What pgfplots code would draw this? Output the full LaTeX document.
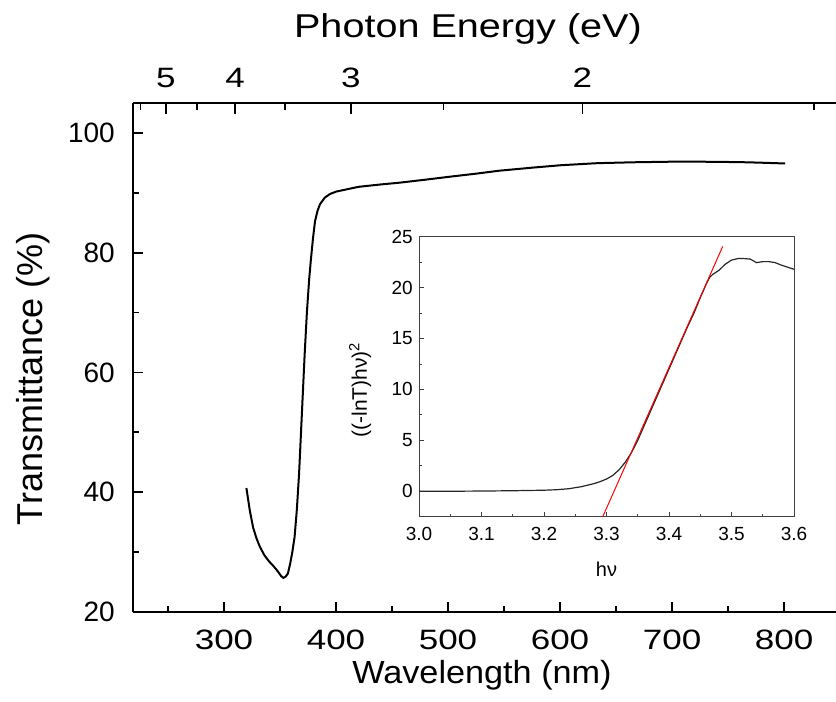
\documentclass[border=0pt]{standalone}
\usepackage{pgfplots}
\pgfplotsset{compat=1.18}
\usepackage{fontspec}
\setmainfont{Liberation Sans}
\newfontfamily\tickstretch{Liberation Sans}[FakeStretch=1.25]
\newfontfamily\titlestretch{Liberation Sans}[FakeStretch=1.2]
\newfontfamily\labstretch{Liberation Sans}[FakeStretch=1.07]

\pgfplotstableread{
lam T
320 40.7
323 37.0
326 34.1
329 32.3
332 30.9
336 29.5
340 28.5
344 27.7
348 26.8
351 26.0
353 25.7
355 25.9
357 26.4
359 28.0
361 30.0
363 32.5
365 37.0
367 43.0
368 47.0
370 55.0
372 63.0
374 70.0
376 75.5
377.5 78.7
379.5 82.5
381.3 85.3
383.5 87.0
385.7 88.1
390 89.2
394.6 89.8
400 90.2
410 90.6
420 91.0
430 91.2
440 91.4
457 91.7
480 92.2
502 92.7
525 93.2
546 93.7
575 94.2
600 94.6
633 94.95
665 95.1
700 95.2
725 95.2
750 95.15
767 95.1
785 95.0
801 94.9
}\transm

\pgfplotstableread{
hv A
3.00 0.0
3.05 0.0
3.10 0.02
3.15 0.05
3.20 0.1
3.22 0.15
3.24 0.25
3.26 0.45
3.28 0.75
3.29 0.95
3.30 1.2
3.31 1.55
3.32 2.1
3.33 2.85
3.34 3.8
3.35 5.0
3.36 6.4
3.37 7.8
3.38 9.2
3.39 10.6
3.40 12.0
3.41 13.4
3.42 14.8
3.43 16.2
3.44 17.5
3.45 19.0
3.46 20.4
3.465 21.0
3.47 21.3
3.48 21.7
3.49 22.3
3.50 22.7
3.51 22.85
3.52 22.85
3.53 22.8
3.54 22.45
3.55 22.55
3.56 22.55
3.57 22.45
3.58 22.2
3.59 22.0
3.60 21.8
}\tauc

\begin{document}
\begin{tikzpicture}
\path[use as bounding box] (-133pt,-90pt) rectangle (703pt,612pt);
% main axis
\begin{axis}[
  at={(0pt,0pt)}, anchor=south west,
  scale only axis, width=703pt, height=509pt,
  xmin=218.75, xmax=846.4, ymin=20, ymax=105,
  axis x line*=bottom, axis y line*=left,
  axis line style={line width=2pt, black},
  tick align=inside,
  xtick={300,400,500,600,700,800}, minor xtick={250,350,450,550,650,750,850},
  ytick={20,40,60,80,100}, minor ytick={30,50,70,90},
  major tick length=10pt, minor tick length=6pt,
  every tick/.style={line width=1.8pt, black},
  /pgf/number format/assume math mode=true,
  xticklabel style={font=\tickstretch\fontsize{28}{30}\selectfont, inner sep=0pt, yshift=-18pt},
  yticklabel style={font=\fontsize{28}{30}\selectfont, inner sep=0pt, xshift=-18pt},
  xlabel={Wavelength (nm)}, ylabel={Transmittance (\%)},
  every axis x label/.style={at={(axis description cs:0.4964,-0.1395)}, anchor=base, font=\labstretch\fontsize{32}{34}\selectfont},
  every axis y label/.style={at={(axis description cs:-0.1294,0.458)}, rotate=90, anchor=base, font=\fontsize{36}{38}\selectfont},
]
\addplot[line width=2pt, black] table[x=lam, y=T] {\transm};
\end{axis}
% top axis (photon energy)
\begin{axis}[
  at={(0pt,0pt)}, anchor=south west,
  scale only axis, width=703pt, height=509pt,
  xmin=218.75, xmax=846.4, ymin=0, ymax=1,
  axis x line*=top, hide y axis,
  axis line style={line width=2pt, black},
  tick align=inside,
  xtick={248,310,413.333,620}, xticklabels={5,4,3,2},
  minor xtick={225.45,275.56,354.29,496,826.67},
  major tick length=11pt, minor tick length=7pt,
  every tick/.style={line width=1.8pt, black},
  xticklabel style={font=\tickstretch\fontsize{28}{30}\selectfont, inner sep=0pt, yshift=15pt},
  xlabel={Photon Energy (eV)},
  every axis x label/.style={at={(axis description cs:0.4765,1.1277)}, anchor=base, font=\titlestretch\fontsize{33}{35}\selectfont},
]
\addplot[draw=none] coordinates {(300,0.5)};
\end{axis}
% inset
\begin{axis}[
  at={(286pt,95.3pt)}, anchor=south west,
  scale only axis, width=375pt, height=280pt,
  xmin=3.0, xmax=3.6, ymin=-2.5, ymax=25,
  axis line style={line width=1pt, black!75},
  tick align=inside, xtick pos=bottom, ytick pos=left,
  xtick={3.0,3.1,3.2,3.3,3.4,3.5,3.6}, ytick={0,5,10,15,20,25},
  minor x tick num=1, minor y tick num=1,
  major tick length=5pt, minor tick length=3pt,
  every tick/.style={line width=0.8pt, black!75},
  /pgf/number format/assume math mode=true,
  xticklabel style={font=\fontsize{19}{21}\selectfont, inner sep=0pt, yshift=-10pt,
    /pgf/number format/.cd, fixed, fixed zerofill, precision=1},
  yticklabel style={font=\fontsize{19}{21}\selectfont, inner sep=0pt, xshift=-6pt},
  xlabel={hν}, ylabel={((-lnT)hν)\textsuperscript{2}},
  every axis x label/.style={at={(axis description cs:0.5,-0.2143)}, anchor=base, font=\fontsize{20}{22}\selectfont},
  every axis y label/.style={at={(axis description cs:-0.1387,0.4525)}, rotate=90, anchor=base, font=\fontsize{21}{23}\selectfont},
]
\addplot[line width=1.2pt, black!85] table[x=hv, y=A] {\tauc};
\addplot[line width=1pt, red] coordinates {(3.294,-2.5) (3.486,24.05)};
\end{axis}
\end{tikzpicture}
\end{document}
